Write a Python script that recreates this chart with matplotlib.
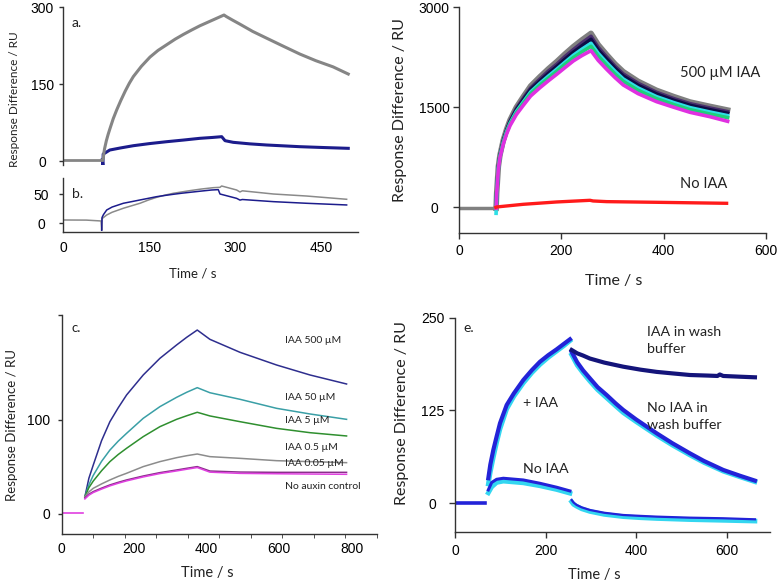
import matplotlib
matplotlib.use('Agg')
import matplotlib.pyplot as plt
import numpy as np

# ---------------- data ----------------
# panel a
a_base_t = [0, 68]
a_base_v = [3, 3]
a_gray_t = [68, 69.7, 70.5, 72, 75, 78, 81.4, 87, 93, 100, 108, 115, 122, 136, 151, 165, 180, 195, 209,
            224, 238, 260, 280, 284, 295, 308, 330, 354, 380, 412, 440, 470, 496.5]
a_gray_v = [3, 5, 15, 25, 40, 52, 64, 83, 100, 118, 137, 152, 165, 185, 203, 216, 227, 238, 247,
            256, 264, 275, 285, 282, 275, 267, 253, 240, 226, 209, 196, 184, 170]
a_blue_t = [68, 69, 69.5, 73.6, 81, 99, 122, 150, 180, 210, 238, 260, 276, 281.8, 296, 325, 354, 412, 455, 496.5]
a_blue_v = [3, -9, 14, 16.8, 22, 25.9, 30.4, 34.5, 38.2, 41.5, 44.8, 46.5, 48, 40.2, 37, 34, 31.8, 28.5, 26.8, 25.3]

# panel b
b_gray_t = [0, 40, 65.7, 66.9, 67.5, 75.6, 85, 104.6, 120, 133.6, 148, 162.7, 177, 191.7, 206, 220.7, 240,
            261.4, 273, 275.9, 302, 307.8, 312, 366, 424, 493.7]
b_gray_v = [5.7, 5.5, 4, -12, 8, 14.3, 19, 25.9, 30.5, 34.5, 40, 44.8, 48.5, 51.7, 54, 56.3, 59,
            61.4, 62, 64.3, 57.4, 54, 56, 50.5, 47, 41.4]
b_blue_t = [66.9, 67.5, 70, 75.6, 85, 104.6, 120, 133.6, 148, 162.7, 177, 191.7, 206, 220.7, 240, 258.5,
            270, 273, 302, 307.8, 312, 366, 424, 493.7]
b_blue_v = [-12, 10, 15, 22.9, 28, 34.5, 37.5, 40.2, 43, 45.9, 48, 50, 51.8, 53.4, 55.5, 57.4,
            58, 50.5, 43, 40, 41, 37.3, 34.5, 31.6]

# panel c
c_base_t = [0, 59.6]
c_base_v = [1, 1]
c_t = [64, 75, 87, 110, 133, 156, 179, 225, 271, 317, 345, 374, 409, 492, 593, 685, 786]
c_500 = [18.4, 38, 52, 78, 98.2, 113, 126.6, 147.9, 165.6, 179.8, 188, 195.7, 185.8, 172, 158.5, 147.9, 138.3]
c_50 = [18.4, 31, 41, 56, 68, 77.5, 85.8, 101.8, 114.2, 124.1, 129.5, 134.4, 129, 122, 112.4, 106.4, 100.7]
c_5 = [18.4, 28, 35, 46, 55.7, 63.3, 69.9, 82.3, 92.9, 100.7, 104.5, 108.2, 104.3, 98.2, 91.1, 86.5, 83]
c_05 = [18.4, 23.5, 27.3, 32, 36.2, 40, 43.3, 50.4, 55.7, 59.9, 62, 63.8, 61, 59.2, 56.7, 55.7, 54.6]
c_005 = [17, 21, 23.8, 27.5, 30.9, 33.7, 36.2, 40.4, 44, 46.8, 48.6, 50.4, 45.7, 44.6, 44.3, 44.3, 44.3]
c_ctrl = [16, 20, 22.8, 26.5, 29.9, 32.7, 35.2, 39.4, 43, 45.8, 47.6, 49.4, 44.5, 43.2, 42.8, 42.5, 42.2]
c_labels = ['IAA 500 µM', 'IAA 50 µM', 'IAA 5 µM', 'IAA 0.5 µM', 'IAA 0.05 µM', 'No auxin control']

# panel d
d_base_t = [0, 72]
d_base_v = [-15, -15]
d_t = [72.5, 73.6, 76.9, 80, 86.6, 93, 99.7, 112, 125.7, 140, 158.3, 175, 190.9, 207, 223.4, 240, 258,
       272, 288.6, 305, 321, 350, 386, 420, 451.4, 490, 525]
d_gray = [-15, 210, 610, 780, 1010, 1170, 1310, 1500, 1660, 1820, 1960, 2080, 2185, 2300, 2410, 2510, 2610,
          2440, 2290, 2150, 2035, 1890, 1755, 1660, 1580, 1515, 1459]
d_purple = [-15, 210, 605, 775, 1000, 1160, 1295, 1480, 1635, 1790, 1925, 2045, 2145, 2260, 2365, 2465, 2565,
            2400, 2255, 2115, 2000, 1860, 1725, 1630, 1555, 1490, 1435]
d_navy = [-15, 205, 600, 770, 990, 1150, 1280, 1460, 1610, 1765, 1895, 2010, 2110, 2220, 2325, 2420, 2520,
          2360, 2220, 2085, 1970, 1830, 1700, 1605, 1530, 1465, 1410]
d_cyan = [-90, 200, 590, 760, 975, 1135, 1260, 1435, 1580, 1730, 1860, 1970, 2070, 2175, 2280, 2370, 2460,
          2310, 2170, 2040, 1925, 1790, 1660, 1570, 1495, 1430, 1375]
d_green = [-15, 200, 585, 755, 965, 1120, 1245, 1415, 1560, 1705, 1835, 1940, 2040, 2145, 2245, 2330, 2415,
           2270, 2130, 2000, 1890, 1755, 1630, 1540, 1465, 1400, 1345]
d_magenta = [-15, 195, 575, 745, 950, 1100, 1225, 1390, 1530, 1670, 1795, 1900, 1995, 2095, 2195, 2275, 2350,
             2205, 2070, 1945, 1835, 1705, 1585, 1500, 1425, 1360, 1290]
d_red_t = [72, 73.6, 125.7, 190.9, 256, 262, 288.6, 386, 523]
d_red_v = [0, 5, 45, 80, 105, 95, 85, 75, 60]

# panel e
e_base_t = [0, 67]
e_base_v = [0, 0]
e_as_t = [73.6, 78, 84.7, 92, 99.4, 114.2, 130, 150.9, 170, 187.8, 206, 224.6, 240, 254]
e_plus_blue = [33.7, 52, 71.9, 90, 107.8, 132.4, 148, 166, 179.5, 190.7, 199.5, 207.4, 214.5, 220.9]
e_plus_cyan = [26, 42, 62, 82, 100, 127, 144, 162, 176, 187, 196.5, 205, 212, 219]
e_no_t = [73.6, 81, 92, 106.8, 150.9, 187.8, 224.6, 254]
e_no_blue = [18, 28, 32.3, 33.7, 31.4, 26.9, 21.6, 16.6]
e_no_cyan = [14, 22, 28, 29.8, 27.5, 23.5, 18.5, 13.5]
e_wash_t = [257.7, 270, 283, 298, 330, 371.8, 410, 445.5, 480, 519, 560, 580, 585, 592.7, 630, 662.7]
e_wash_iaa = [206.5, 202, 199, 195, 189.5, 184, 180, 177, 175, 172.8, 172, 171.5, 173.5, 171.5, 170.5, 169.7]
e_dis_t = [257.7, 270, 283, 298, 315, 335, 355, 371.8, 400, 445.5, 480, 519, 550, 592.7, 630, 662.7]
e_dis_blue = [204, 190, 179, 168.4, 156.5, 145.9, 134.5, 125.7, 113, 94.3, 81, 67.3, 57, 44.9, 37, 30.5]
e_dis_cyan = [200, 186, 175.5, 164.5, 153, 142, 131, 122, 110, 91.5, 78.5, 65, 55, 43.2, 35.5, 29]
e_nodis_t = [257.7, 262, 268.8, 280, 298, 330, 371.8, 410, 445.5, 519, 592.7, 662.7]
e_nodis_blue = [4.5, 1, -2.3, -5.5, -9, -12.8, -15.8, -17, -18, -19.4, -20.2, -21.6]
e_nodis_cyan = [2, -1.5, -4, -7.5, -11, -15, -18, -19.5, -20.5, -22, -23, -24]

# ---------------- figure ----------------
W, H = 779, 583
plt.rcParams['font.family'] = ['Liberation Sans', 'DejaVu Sans']
plt.rcParams['font.size'] = 10
fig = plt.figure(figsize=(W / 100, H / 100), dpi=100)
LAB = ['Lato', 'DejaVu Sans']
SP = '#333333'


def axes_px(l, t, r, b):
    return fig.add_axes([l / W, 1 - b / H, (r - l) / W, (b - t) / H])


def style(ax, spines=('left', 'bottom')):
    for s in ['left', 'right', 'top', 'bottom']:
        ax.spines[s].set_visible(s in spines)
        ax.spines[s].set_color(SP)
        ax.spines[s].set_linewidth(1.0)
    ax.patch.set_alpha(0)
    ax.tick_params(colors=SP, labelcolor='black', width=1.0)


def ftext(px, py, s, size, ha='left', va='center', rot=0):
    fig.text(px / W, 1 - py / H, s, fontsize=size, ha=ha, va=va, rotation=rot,
             family=LAB, color='#222222')


# panel a
ax_a = axes_px(63.3, 7.3, 358.3, 164.5)
style(ax_a, ('left',))
ax_a.plot(a_blue_t, a_blue_v, color='#1c1c8c', lw=2.2)
ax_a.plot(a_base_t, a_base_v, color='#858585', lw=2.0)
ax_a.plot(a_gray_t, a_gray_v, color='#858585', lw=2.2)
ax_a.set_xlim(0, 514)
ax_a.set_ylim(-6.2, 300)
ax_a.set_xticks([])
ax_a.set_yticks([0, 150, 300])
ax_a.tick_params(axis='y', length=3, pad=12)
for lab in ax_a.get_yticklabels():
    lab.set_horizontalalignment('center')

# panel b
ax_b = axes_px(63.3, 177.7, 358.3, 231.7)
style(ax_b)
ax_b.plot(b_gray_t, b_gray_v, color='#8a8a8a', lw=1.1)
ax_b.plot(b_blue_t, b_blue_v, color='#1c1c8c', lw=1.1)
ax_b.set_xlim(0, 514)
ax_b.set_ylim(-14.5, 78.6)
ax_b.set_yticks([0, 50])
ax_b.set_xticks([0, 150, 300, 450])
ax_b.tick_params(axis='y', length=3, pad=13)
ax_b.tick_params(axis='x', length=0, pad=7)
for lab in ax_b.get_yticklabels():
    lab.set_horizontalalignment('center')

ftext(72, 22.7, 'a.', 10)
ftext(72, 194.3, 'b.', 10)
ftext(15, 99, 'Response Difference / RU', 8.5, ha='center', rot=90)
ftext(193, 273, 'Time / s', 9.5, ha='center')

# panel d
ax_d = axes_px(459, 7.3, 766, 232.7)
style(ax_d)
ax_d.plot(d_base_t, d_base_v, color='#808080', lw=2.5)
ax_d.plot(d_t, d_gray, color='#808080', lw=4.0)
ax_d.plot(d_t, d_purple, color='#4a2f6e', lw=2.6)
ax_d.plot(d_t, d_navy, color='#0d0d45', lw=2.6)
ax_d.plot(d_t, d_cyan, color='#2ee0e6', lw=2.6)
ax_d.plot(d_t, d_green, color='#1fd07a', lw=2.6)
ax_d.plot(d_t, d_magenta, color='#e030e0', lw=2.6)
ax_d.plot(d_red_t, d_red_v, color='#ff1a1a', lw=2.4)
ax_d.set_xlim(0, 600)
ax_d.set_ylim(-381, 3000)
ax_d.set_xticks([0, 200, 400, 600])
ax_d.set_yticks([0, 1500, 3000])
ax_d.tick_params(axis='x', length=4, pad=4)
ax_d.tick_params(axis='y', length=4, pad=14)
for lab in ax_d.get_yticklabels():
    lab.set_horizontalalignment('center')
ftext(680, 72.7, '500 µM IAA', 10.5)
ftext(680, 184, 'No IAA', 10.5)
ftext(400, 110, 'Response Difference / RU', 11.5, ha='center', rot=90)
ftext(614, 281, 'Time / s', 11.5, ha='center')

# panel c
ax_c = axes_px(61.7, 315, 377, 534)
style(ax_c)
ax_c.plot(c_base_t, c_base_v, color='#e040e0', lw=1.2)
cols_c = ['#2e2e8e', '#3a9fa6', '#2f8f2f', '#8c8c8c', '#8a2f8a', '#e040e0']
for vals, col in zip([c_500, c_50, c_5, c_05, c_005, c_ctrl], cols_c):
    ax_c.plot(c_t, vals, color=col, lw=1.1)
ax_c.set_xlim(0, 870)
ax_c.set_ylim(-21.3, 211.7)
ax_c.set_xticks([0, 200, 400, 600, 800])
ax_c.set_xticks(np.arange(1, 11) * 87, minor=True)
ax_c.tick_params(axis='x', which='major', length=0, pad=6)
ax_c.tick_params(axis='x', which='minor', length=3, color=SP)
ax_c.set_yticks([0, 100, 211.7])
ax_c.set_yticklabels(['0', '100', ''])
ax_c.tick_params(axis='y', length=3, pad=5)
for py, s in zip([340.7, 397.3, 420.7, 447.7, 463.3, 486.7], c_labels):
    ftext(285, py, s, 7.5)
ftext(72, 328.3, 'c.', 9.5)
ftext(11.7, 425, 'Response Difference / RU', 9.5, ha='center', rot=90)
ftext(207.5, 573, 'Time / s', 10.5, ha='center')

# panel e
ax_e = axes_px(455, 317.7, 770, 531.7)
style(ax_e)
ax_e.plot(e_base_t, e_base_v, color='#2323d8', lw=2.6)
ax_e.plot(e_as_t, e_plus_cyan, color='#33d6f0', lw=3.4)
ax_e.plot(e_as_t, e_plus_blue, color='#2323d8', lw=3.0)
ax_e.plot(e_no_t, e_no_cyan, color='#33d6f0', lw=3.4)
ax_e.plot(e_no_t, e_no_blue, color='#2323d8', lw=2.2)
ax_e.plot(e_dis_t, e_dis_cyan, color='#33d6f0', lw=3.4)
ax_e.plot(e_dis_t, e_dis_blue, color='#2323d8', lw=3.0)
ax_e.plot(e_nodis_t, e_nodis_cyan, color='#33d6f0', lw=3.4)
ax_e.plot(e_nodis_t, e_nodis_blue, color='#2323d8', lw=1.6)
ax_e.plot(e_wash_t, e_wash_iaa, color='#14147a', lw=3.0)
ax_e.set_xlim(0, 696)
ax_e.set_ylim(-38.3, 250)
ax_e.set_xticks([0, 200, 400, 600])
ax_e.set_yticks([0, 125, 250])
ax_e.tick_params(axis='x', length=4, pad=5)
ax_e.tick_params(axis='y', length=4, pad=12)
for lab in ax_e.get_yticklabels():
    lab.set_horizontalalignment('center')
ftext(463, 328, 'e.', 10)
ftext(646.7, 331.7, 'IAA in wash', 10.3)
ftext(646.7, 349.3, 'buffer', 10.3)
ftext(646.7, 407.7, 'No IAA in', 10.3)
ftext(646.7, 425, 'wash buffer', 10.3)
ftext(523.3, 402.7, '+ IAA', 10.3)
ftext(523.3, 469, 'No IAA', 10.3)
ftext(401.7, 412.7, 'Response Difference / RU', 11.5, ha='center', rot=90)
ftext(594, 575, 'Time / s', 10.5, ha='center')

fig.savefig('out.png', dpi=100)
